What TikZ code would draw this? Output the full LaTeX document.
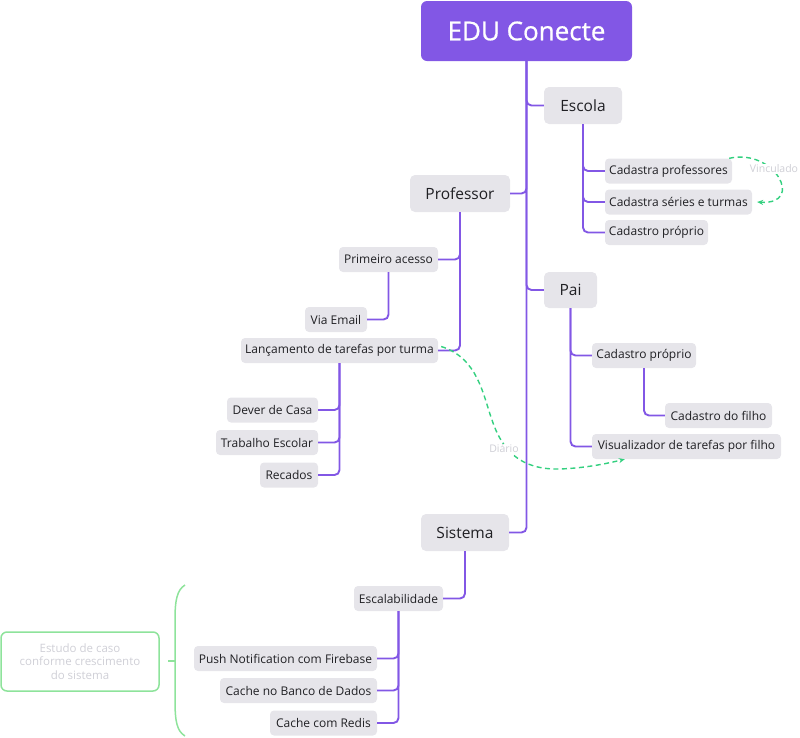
\documentclass[tikz,border=0pt]{standalone}
\usepackage{fontspec}
\setmainfont{Open Sans}
\newfontfamily\rootfont[FakeBold=0.7]{Open Sans}
\usetikzlibrary{arrows.meta}
\definecolor{purp}{HTML}{8257E5}
\definecolor{boxg}{HTML}{E6E5EA}
\definecolor{txt}{HTML}{202024}
\definecolor{dgreen}{HTML}{33D07F}
\definecolor{lgreen}{HTML}{8EE39B}
\definecolor{lgray}{HTML}{CFCFD6}
\begin{document}
\begin{tikzpicture}[x=1pt,y=-1pt,
  rootbox/.style={fill=purp, rounded corners=6pt, inner sep=0pt, text=white, font=\rootfont\fontsize{26}{30}\selectfont},
  topic/.style={fill=boxg, rounded corners=5pt, inner sep=0pt, minimum height=37pt, text=txt, font=\fontsize{15.5}{18}\selectfont},
  leaf/.style={fill=boxg, rounded corners=4pt, inner sep=0pt, minimum height=25pt, text=txt, font=\fontsize{12}{14}\selectfont},
  link/.style={draw=purp, line width=1.9pt, rounded corners=5pt},
  relation/.style={draw=dgreen, dashed, dash pattern=on 5pt off 3.5pt, line width=1.4pt, -{Stealth[length=6pt,width=5pt]}},
  rellabel/.style={fill=white, inner sep=1pt, text=lgray, font=\fontsize{10.5}{12}\selectfont},
  note/.style={draw=lgreen, line width=1.5pt, rounded corners=6pt, inner sep=0pt, text=lgray, align=center, font=\fontsize{11.5}{13.5}\selectfont},
  bracestyle/.style={draw=lgreen, line width=1.5pt}]
\useasboundingbox (0,0) rectangle (800,737);

% nodes
\node[rootbox, minimum width=211pt, minimum height=60pt] (root) at (526.5,31) {EDU Conecte};
\node[topic, minimum width=78pt] (escola) at (583,105.5) {Escola};
\node[topic, minimum width=100pt] (prof) at (460,193.5) {Professor};
\node[topic, minimum width=53pt, minimum height=36pt] (pai) at (570.5,290) {Pai};
\node[topic, minimum width=88pt] (sist) at (465,532.5) {Sistema};

\node[leaf, minimum width=127pt] (cprof) at (668.5,171) {Cadastra professores};
\node[leaf, minimum width=147pt] (cser) at (678.5,202) {Cadastra séries e turmas};
\node[leaf, minimum width=103pt] (cpesc) at (656.5,232.5) {Cadastro próprio};

\node[leaf, minimum width=99pt] (prim) at (388.5,259.5) {Primeiro acesso};
\node[leaf, minimum width=62pt] (via) at (336,319.5) {Via Email};
\node[leaf, minimum width=197pt] (lanc) at (339.5,350.5) {Lançamento de tarefas por turma};
\node[leaf, minimum width=91pt] (dever) at (272.5,410) {Dever de Casa};
\node[leaf, minimum width=102pt] (trab) at (267,442.5) {Trabalho Escolar};
\node[leaf, minimum width=58pt] (rec) at (289,475) {Recados};

\node[leaf, minimum width=104pt] (cppai) at (644,355.5) {Cadastro próprio};
\node[leaf, minimum width=107pt] (filho) at (718.5,415.5) {Cadastro do filho};
\node[leaf, minimum width=189pt] (visu) at (686.5,446.5) {Visualizador de tarefas por filho};

\node[leaf, minimum width=89pt] (esc) at (398.5,598.5) {Escalabilidade};
\node[leaf, minimum width=183pt] (push) at (285.5,658.5) {Push Notification com Firebase};
\node[leaf, minimum width=157pt] (cbanco) at (298.5,690.5) {Cache no Banco de Dados};
\node[leaf, minimum width=107pt] (credis) at (323.5,723) {Cache com Redis};

\node[note, minimum width=158pt, minimum height=59pt] (estudo) at (80,661.5) {Estudo de caso\\conforme crescimento\\do sistema};

% tree links
\draw[link] (root.south) |- (escola.west);
\draw[link] (root.south) |- (prof.east);
\draw[link] (root.south) |- (pai.west);
\draw[link] (root.south) |- (sist.east);

\draw[link] (escola.south) |- (cprof.west);
\draw[link] (escola.south) |- (cser.west);
\draw[link] (escola.south) |- (cpesc.west);

\draw[link] (prof.south) |- (prim.east);
\draw[link] (prof.south) |- (lanc.east);
\draw[link] (prim.south) |- (via.east);
\draw[link] (lanc.south) |- (dever.east);
\draw[link] (lanc.south) |- (trab.east);
\draw[link] (lanc.south) |- (rec.east);

\draw[link] (pai.south) |- (cppai.west);
\draw[link] (pai.south) |- (visu.west);
\draw[link] (cppai.south) |- (filho.west);

\draw[link] (sist.south) |- (esc.east);
\draw[link] (esc.south) |- (push.east);
\draw[link] (esc.south) |- (cbanco.east);
\draw[link] (esc.south) |- (credis.east);

% relations
\draw[relation] ([xshift=-3pt]cprof.north east) .. controls (775,148) and (805,205) .. ([xshift=5pt]cser.east);
\node[rellabel] (vinc) at (774,169) {Vinculado};

\draw[relation] ([shift={(3pt,4pt)}]lanc.east) .. controls (478,358) and (483,395) .. (492,420)
   .. controls (502,450) and (520,470) .. (560,469)
   .. controls (585,468) and (605,464) .. ([xshift=33pt]visu.south west);
\node[rellabel] (diario) at (504,449) {Diário};

% brace
\coordinate (bt) at (185,585);
\coordinate (bb) at (185,736);
\coordinate (bm) at (175,661);
\coordinate (btick) at (168,661);
\draw[bracestyle] (bt) .. controls (177,590) and (175,600) .. (175,620) -- (175,700) .. controls (175,722) and (177,731) .. (bb);
\draw[bracestyle] (bm) -- (btick);
\end{tikzpicture}
\end{document}
